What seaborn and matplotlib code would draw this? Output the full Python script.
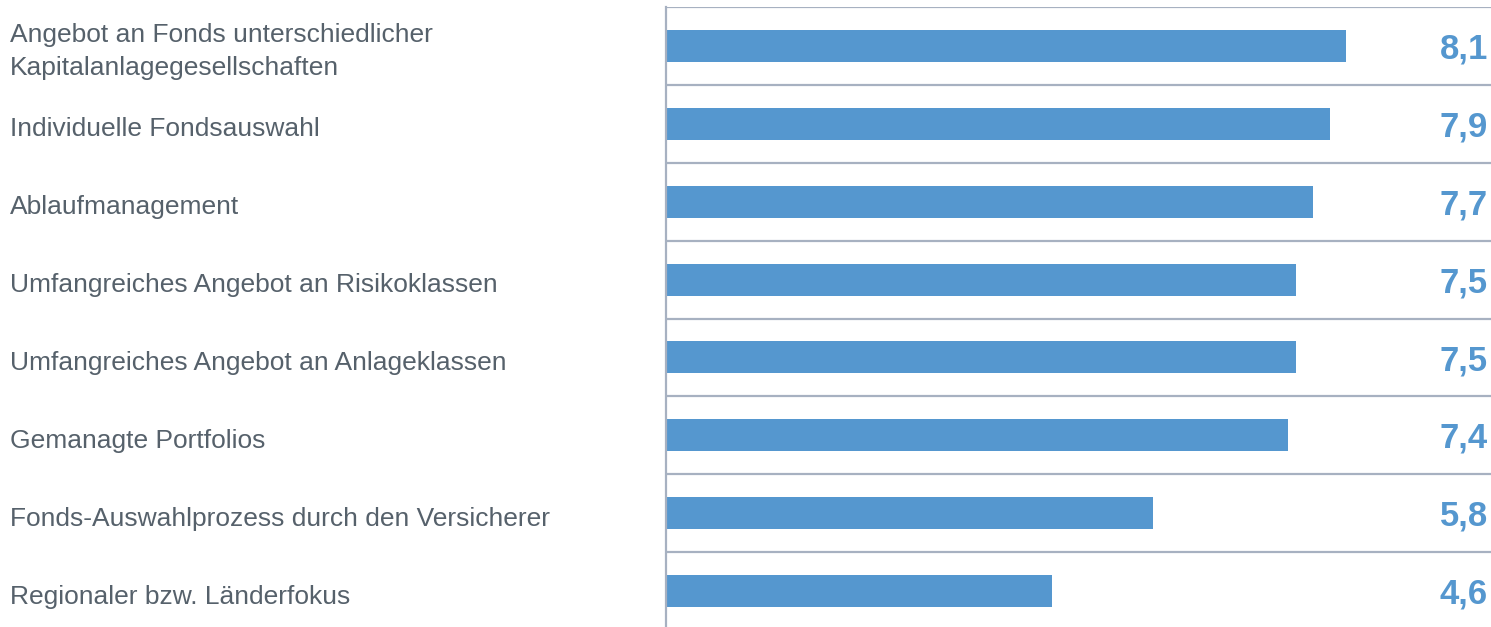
import matplotlib
matplotlib.use("Agg")
import matplotlib.pyplot as plt
import matplotlib.transforms as mtransforms
import seaborn as sns
import pandas as pd

categories = [
    "Angebot an Fonds unterschiedlicher\nKapitalanlagegesellschaften",
    "Individuelle Fondsauswahl",
    "Ablaufmanagement",
    "Umfangreiches Angebot an Risikoklassen",
    "Umfangreiches Angebot an Anlageklassen",
    "Gemanagte Portfolios",
    "Fonds-Auswahlprozess durch den Versicherer",
    "Regionaler bzw. Länderfokus",
]
values = [8.1, 7.9, 7.7, 7.5, 7.5, 7.4, 5.8, 4.6]

BAR_COLOR = "#5597CF"
VALUE_COLOR = "#5597CF"
LABEL_COLOR = "#56616B"
GRID_COLOR = "#A7B1C1"

sns.set_theme(style="white")
plt.rcParams["font.family"] = ["Liberation Sans", "DejaVu Sans"]

df = pd.DataFrame({"Kriterium": categories, "Wert": values})

fig = plt.figure(figsize=(14.91, 6.27), dpi=100)
ax = fig.add_axes([666 / 1491, -0.0048, (1491 - 666) / 1491, 0.9936])

sns.barplot(data=df, x="Wert", y="Kriterium", orient="h", color=BAR_COLOR,
            width=0.41, saturation=1, ax=ax, edgecolor="none")

ax.set_xlim(0, (1491 - 666) / 84.0)
ax.set_ylim(len(categories) - 0.5, -0.5)

# row separators
for k in range(len(categories) + 1):
    ax.axhline(k - 0.5, color=GRID_COLOR, lw=1.6, zorder=0)

for s in ["top", "right", "bottom"]:
    ax.spines[s].set_visible(False)
ax.spines["left"].set_color(GRID_COLOR)
ax.spines["left"].set_linewidth(1.6)

ax.set_xticks([])
ax.set_yticks([])
ax.set_xlabel("")
ax.set_ylabel("")

# category labels at the left edge of the figure
label_tf = mtransforms.blended_transform_factory(fig.transFigure, ax.transData)
for i, name in enumerate(categories):
    ax.text(10 / 1491, i + 0.07, name, transform=label_tf, ha="left", va="center",
            fontsize=19, color=LABEL_COLOR, linespacing=1.45, clip_on=False)

# value labels at the right edge
value_tf = mtransforms.blended_transform_factory(ax.transAxes, ax.transData)
for i, v in enumerate(values):
    ax.text(0.9965, i + 0.04, f"{v:.1f}".replace(".", ","), transform=value_tf,
            ha="right", va="center", fontsize=25, fontweight="bold", color=VALUE_COLOR)

fig.savefig("out.png", dpi=100)
